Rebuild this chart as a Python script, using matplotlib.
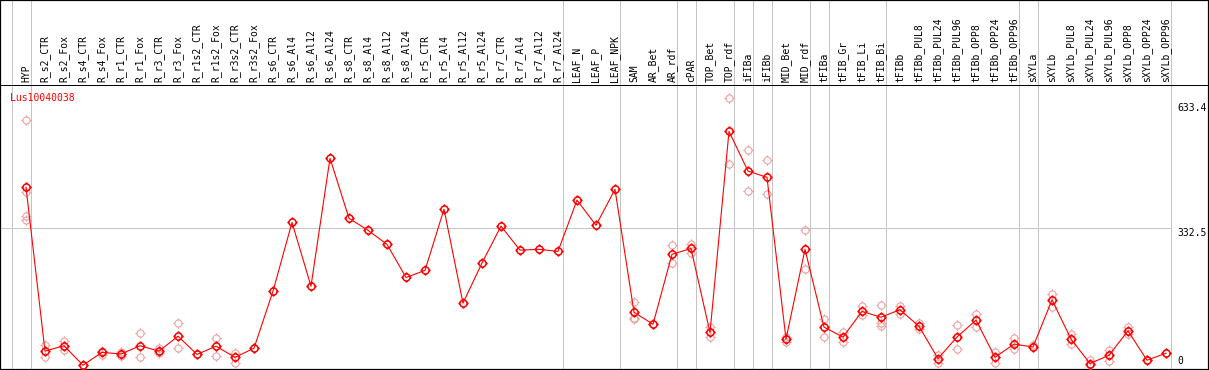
import numpy as np
import matplotlib
matplotlib.use("Agg")
import matplotlib.pyplot as plt
from matplotlib.path import Path
from matplotlib.transforms import blended_transform_factory

plt.rcParams['font.family'] = ['DejaVu Sans Mono']

gene = "Lus10040038"

samples = ["HYP", "R_s2_CTR", "R_s2_Fox", "R_s4_CTR", "R_s4_Fox", "R_r1_CTR", "R_r1_Fox",
           "R_r3_CTR", "R_r3_Fox", "R_r1s2_CTR", "R_r1s2_Fox", "R_r3s2_CTR", "R_r3s2_Fox",
           "R_s6_CTR", "R_s6_Al4", "R_s6_Al12", "R_s6_Al24", "R_s8_CTR", "R_s8_Al4",
           "R_s8_Al12", "R_s8_Al24", "R_r5_CTR", "R_r5_Al4", "R_r5_Al12", "R_r5_Al24",
           "R_r7_CTR", "R_r7_Al4", "R_r7_Al12", "R_r7_Al24", "LEAF_N", "LEAF_P", "LEAF_NPK",
           "SAM", "AR_Bet", "AR_rdf", "cPAR", "TOP_Bet", "TOP_rdf", "iFIBa", "iFIBb",
           "MID_Bet", "MID_rdf", "tFIBa", "tFIB_Gr", "tFIB_Li", "tFIB_Bi", "tFIBb",
           "tFIBb_PUL8", "tFIBb_PUL24", "tFIBb_PUL96", "tFIBb_OPP8", "tFIBb_OPP24",
           "tFIBb_OPP96", "sXYLa", "sXYLb", "sXYLb_PUL8", "sXYLb_PUL24", "sXYLb_PUL96",
           "sXYLb_OPP8", "sXYLb_OPP24", "sXYLb_OPP96"]

means = [431, 35, 48, 1, 32, 28, 48, 35, 71, 27, 47, 20, 42,
         180, 346, 192, 501, 356, 327, 293, 213, 230, 378, 151, 248, 337, 279, 281, 276,
         400, 339, 426,
         129, 100, 269, 283, 80, 566, 470, 455, 64, 281,
         93, 69, 131, 117, 135, 95, 17, 69, 110, 20, 52,
         45, 159, 64, 5, 25, 84, 13, 30]

reps = [[594, 420, 362, 352], [49, 20], [60, 38], [1], [35, 26], [34, 24], [79, 20],
        [43, 30], [102, 42], [27], [67, 24], [31, 7], [42],
        [], [], [], [], [], [], [], [], [], [], [], [], [], [], [], [], [], [], [],
        [154, 116, 112], [100], [291, 249], [295, 273], [93, 69], [646, 487], [520, 421],
        [496, 415], [58, 70], [328, 233],
        [113, 68], [80, 56], [144, 122], [146, 102, 96], [144, 125], [104, 88], [26, 7],
        [97, 40], [125, 93], [32, 7], [66, 39],
        [50], [173, 142], [77, 51], [14, 1], [38, 12], [93, 76], [13], [30]]

# group boundaries sit right after these columns
breaks_after = [-1, 0, 28, 31, 34, 35, 37, 38, 39, 41, 42, 45, 52, 53, 60]
y_ticks = [633.4, 332.5, 0]

x = np.arange(len(samples))

# circle with four little ticks, like the original markers
circ = Path.circle((0, 0), 1.0)
ticks = Path([(0, 1), (0, 1.45), (0, -1), (0, -1.45), (1, 0), (1.45, 0), (-1, 0), (-1.45, 0)],
             [Path.MOVETO, Path.LINETO] * 4)
mk = Path.make_compound_path(circ, ticks)

fig = plt.figure(figsize=(12.09, 3.70), dpi=100)
ax = fig.add_axes([0, 0, 1, 1])
ax.set_xlim(-26 / 19, -26 / 19 + 1209 / 19)
ax.set_ylim(-4.4 / 0.4138, 365.6 / 0.4138)

trans = blended_transform_factory(ax.transData, ax.transAxes)

for b in breaks_after:
    ax.axvline(b + 0.24, color="#c4c4c4", lw=0.72, antialiased=False, zorder=1)
ax.plot([ax.get_xlim()[0], 60.24], [332.5, 332.5], color="#c4c4c4", lw=0.72,
        antialiased=False, zorder=1)
ax.axhline(678, color="black", lw=0.72, antialiased=False, zorder=2)

for i, r in enumerate(reps):
    if r:
        ax.plot([i] * len(r), r, linestyle="none", marker=mk, ms=7.4, mfc="none",
                mec="#f0a0a0", mew=0.8, zorder=3)

ax.plot(x, means, color="red", lw=0.8, marker=mk, ms=7.4, mfc="none", mec="red",
        mew=1.1, zorder=4)

for i, s in enumerate(samples):
    ax.text(i, 288 / 370, s, transform=trans, rotation=90, ha="center", va="bottom",
            fontsize=7, color="black")

ax.text(10 / 1209, 277 / 370, gene, transform=ax.transAxes, color="red", fontsize=7,
        ha="left", va="top")

for v in y_ticks:
    ax.text(1177 / 1209, v, ("%g" % v), transform=blended_transform_factory(ax.transAxes, ax.transData),
            ha="left", va="bottom" if v == 0 else "top", fontsize=7)

ax.set_xticks([])
ax.set_yticks([])
for sp in ax.spines.values():
    sp.set_linewidth(1.6)
    sp.set_color("black")

fig.savefig("out.png", dpi=100)
